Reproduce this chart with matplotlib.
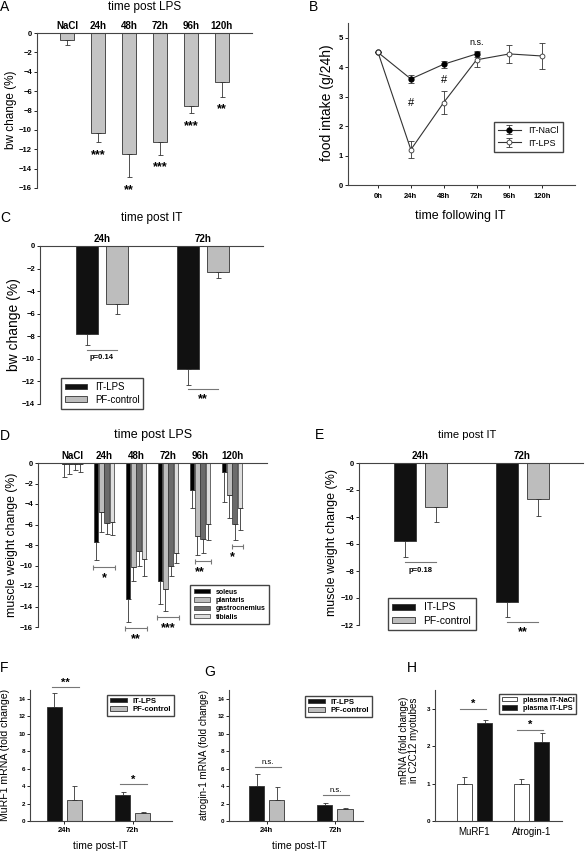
import matplotlib
matplotlib.use('Agg')
import matplotlib.pyplot as plt
import numpy as np

plt.rcParams['font.family'] = ['Liberation Sans', 'DejaVu Sans']
plt.rcParams['axes.linewidth'] = 0.8
plt.rcParams['axes.edgecolor'] = '#444444'

W, H = 586, 852

# ---------------- data ----------------
# A  body weight change, time post LPS
a_groups = ['NaCl', '24h', '48h', '72h', '96h', '120h']
a_bw = [-0.7, -10.3, -12.5, -11.2, -7.5, -5.1]
a_err = [0.5, 1.0, 2.4, 1.4, 0.8, 1.5]
a_stars = ['', '***', '**', '***', '***', '**']

# B  food intake
b_times = ['0h', '24h', '48h', '72h', '96h', '120h']
b_nacl = [4.5, 3.6, 4.1, 4.45]
b_nacl_err = [0.0, 0.15, 0.12, 0.1]
b_lps = [4.5, 1.2, 2.8, 4.25, 4.45, 4.38]
b_lps_err = [0.0, 0.3, 0.4, 0.25, 0.3, 0.45]

# C  bw change, time post IT
c_groups = ['24h', '72h']
c_lps = [-7.8, -10.9]
c_lps_err = [1.0, 1.4]
c_pf = [-5.1, -2.3]
c_pf_err = [0.9, 0.5]
c_sig = ['p=0.14', '**']

# D  muscle weight change, time post LPS
d_groups = ['NaCl', '24h', '48h', '72h', '96h', '120h']
d_muscles = ['soleus', 'plantaris', 'gastrocnemius', 'tibialis']
d_soleus = [-0.05, -7.7, -13.3, -11.55, -2.6, -0.9]
d_soleus_err = [1.3, 1.8, 2.2, 2.25, 1.8, 2.9]
d_plantaris = [-0.05, -4.8, -10.1, -12.25, -7.1, -3.15]
d_plantaris_err = [1.05, 1.95, 1.4, 2.15, 1.85, 2.25]
d_gastro = [-0.05, -5.85, -8.6, -10.0, -7.4, -5.95]
d_gastro_err = [0.6, 1.05, 1.4, 1.0, 1.4, 1.55]
d_tibialis = [-0.05, -5.8, -9.4, -8.8, -5.95, -4.35]
d_tibialis_err = [0.85, 1.2, 1.65, 1.0, 1.55, 2.15]
d_stars = ['', '*', '**', '***', '**', '*']
d_sig_from = [0, 0, 0, 0, 1, 2]   # first muscle covered by bracket

# E  muscle weight change, time post IT
e_groups = ['24h', '72h']
e_lps = [-5.77, -10.27]
e_lps_err = [1.16, 1.12]
e_pf = [-3.27, -2.65]
e_pf_err = [1.11, 1.31]
e_sig = ['p=0.18', '**']

# F  MuRF1 mRNA
f_groups = ['24h', '72h']
f_lps = [13.05, 2.95]
f_lps_err = [1.6, 0.35]
f_pf = [2.37, 0.88]
f_pf_err = [1.63, 0.19]
f_sig = ['**', '*']

# G  atrogin-1 mRNA
g_groups = ['24h', '72h']
g_lps = [4.05, 1.84]
g_lps_err = [1.3, 0.19]
g_pf = [2.37, 1.34]
g_pf_err = [1.53, 0.11]
g_sig = ['n.s.', 'n.s.']

# H  C2C12 myotubes
h_genes = ['MuRF1', 'Atrogin-1']
h_nacl = [1.0, 1.0]
h_nacl_err = [0.17, 0.12]
h_lps = [2.63, 2.12]
h_lps_err = [0.07, 0.23]
h_sig = ['*', '*']

BLACK = '#111111'
GRAY = '#bdbdbd'
EDGE = '#333333'
SIGC = '#777777'
STAR = 9

fig = plt.figure(figsize=(W / 100, H / 100), dpi=100)


def axes_px(x0, y0, x1, y1):
    return fig.add_axes([x0 / W, 1 - y1 / H, (x1 - x0) / W, (y1 - y0) / H])


def ftext(x, y, s, **kw):
    fig.text(x / W, 1 - y / H, s, **kw)


def neg_style(ax, labels, pos, ticksize=5.5, catsize=7):
    # zero line on top, categories written above it
    ax.spines['right'].set_visible(False)
    ax.spines['bottom'].set_visible(False)
    ax.set_xticks(pos)
    ax.set_xticklabels(labels, fontsize=catsize, fontweight='bold')
    ax.tick_params(axis='x', top=True, bottom=False, labeltop=True,
                   labelbottom=False, length=0, pad=1.5)
    ax.tick_params(axis='y', length=2, width=0.6, pad=1.5, labelsize=ticksize)
    for t in ax.get_yticklabels():
        t.set_fontweight('bold')


def pos_style(ax, ticksize=4.5):
    ax.spines['right'].set_visible(False)
    ax.spines['top'].set_visible(False)
    ax.tick_params(axis='y', length=2, width=0.6, pad=1.5, labelsize=ticksize)
    for t in ax.get_yticklabels():
        t.set_fontweight('bold')


def down_err(ax, x, y, e):
    ax.errorbar(x, y, yerr=[e, np.zeros(len(e))], fmt='none', ecolor=EDGE,
                elinewidth=0.6, capsize=1.8, capthick=0.6)


def up_err(ax, x, y, e):
    ax.errorbar(x, y, yerr=[np.zeros(len(e)), e], fmt='none', ecolor=EDGE,
                elinewidth=0.6, capsize=1.8, capthick=0.6)


def sig_line(ax, x0, x1, y, txt, ty, size=7, weight='bold'):
    ax.plot([x0, x1], [y, y], color=SIGC, lw=0.8, clip_on=False)
    ax.text((x0 + x1) / 2, ty, txt, ha='center', va='center',
            fontsize=size, fontweight=weight, clip_on=False)


def box_legend(ax, x, y, size, hl, weight='normal', **kw):
    ax.legend(loc='upper left', bbox_to_anchor=(x / W, 1 - y / H),
              bbox_transform=fig.transFigure, frameon=True, fancybox=False,
              edgecolor='#444444', framealpha=1, handlelength=hl,
              prop={'weight': weight, 'size': size}, **kw)


# ---------------- A ----------------
axA = axes_px(37, 33, 252, 188)
xa = np.arange(len(a_groups))
axA.bar(xa, a_bw, width=0.48, color='#c4c4c4', edgecolor=EDGE, lw=0.6)
down_err(axA, xa, a_bw, a_err)
for i, s in enumerate(a_stars):
    axA.text(i, a_bw[i] - a_err[i] - 1.3, s, ha='center', va='center',
             fontsize=STAR, fontweight='bold')
axA.set_xlim(-0.97, 5.97)
axA.set_ylim(-16, 0)
axA.set_yticks(np.arange(-16, 1, 2))
neg_style(axA, a_groups, xa)
ftext(0, 7, 'A', fontsize=10, va='center')
ftext(145, 7, 'time post LPS', fontsize=8.5, ha='center', va='center')
ftext(11, 110, 'bw change (%)', fontsize=8.5, rotation=90, ha='center', va='center')

# ---------------- B ----------------
axB = axes_px(348, 23, 575, 185)
xb = np.arange(len(b_times))
axB.errorbar(xb[:len(b_nacl)], b_nacl, yerr=b_nacl_err, color=EDGE, lw=0.8,
             marker='o', ms=3.5, mfc='black', mec='black', ecolor=EDGE,
             elinewidth=0.6, capsize=2, capthick=0.6, label='IT-NaCl')
axB.errorbar(xb, b_lps, yerr=b_lps_err, color=EDGE, lw=0.8,
             marker='o', ms=3.5, mfc='white', mec='#333333', mew=0.6,
             ecolor=EDGE, elinewidth=0.6, capsize=2, capthick=0.6, label='IT-LPS')
axB.text(1, 2.8, '#', ha='center', va='center', fontsize=8)
axB.text(2, 3.55, '#', ha='center', va='center', fontsize=8)
axB.text(3, 4.85, 'n.s.', ha='center', va='center', fontsize=6.5)
axB.set_xlim(-0.915, 6.0)
axB.set_ylim(0, 5.5)
axB.set_xticks(xb)
axB.set_xticklabels(b_times, fontsize=5.5, fontweight='bold')
axB.set_yticks(range(6))
axB.spines['right'].set_visible(False)
axB.spines['top'].set_visible(False)
axB.tick_params(axis='both', length=2, width=0.6, pad=1.5, labelsize=5.5)
axB.tick_params(axis='x', pad=4)
for t in axB.get_yticklabels():
    t.set_fontweight('bold')
box_legend(axB, 489, 117, 6.5, 2.5, borderpad=0.5, labelspacing=0.4)
ftext(313, 7, 'B', fontsize=10, va='center', ha='center')
ftext(460, 216, 'time following IT', fontsize=9, ha='center', va='center')
ftext(327, 103, 'food intake (g/24h)', fontsize=10, rotation=90, ha='center', va='center')

# ---------------- C ----------------
axC = axes_px(40, 246, 263, 404)
xc = np.arange(len(c_groups))
off, bw = 0.153, 0.218
axC.bar(xc - off, c_lps, width=bw, color=BLACK, edgecolor=EDGE, lw=0.6, label='IT-LPS')
axC.bar(xc + off, c_pf, width=bw, color=GRAY, edgecolor=EDGE, lw=0.6, label='PF-control')
down_err(axC, xc - off, c_lps, c_lps_err)
down_err(axC, xc + off, c_pf, c_pf_err)
for i in range(len(c_groups)):
    ly = min(c_lps[i] - c_lps_err[i], c_pf[i] - c_pf_err[i]) - 0.4
    sz = 5.5 if i == 0 else STAR
    sig_line(axC, i - off, i + off, ly, c_sig[i], ly - (0.7 if i == 0 else 0.9), size=sz)
axC.set_xlim(-0.614, 1.594)
axC.set_ylim(-14, 0)
axC.set_yticks(np.arange(-14, 1, 2))
neg_style(axC, c_groups, xc)
box_legend(axC, 56, 373, 7, 2.3, handleheight=0.5, borderpad=0.4, labelspacing=0.3)
ftext(0, 218, 'C', fontsize=10, va='center')
ftext(152, 218, 'time post IT', fontsize=8.5, ha='center', va='center')
ftext(14, 325, 'bw change (%)', fontsize=10, rotation=90, ha='center', va='center')

# ---------------- D ----------------
axD = axes_px(38, 463, 267, 627)
xd = np.arange(len(d_groups))
d_vals = [d_soleus, d_plantaris, d_gastro, d_tibialis]
d_errs = [d_soleus_err, d_plantaris_err, d_gastro_err, d_tibialis_err]
d_cols = ['#000000', '#bdbdbd', '#6b6b6b', '#dedede']
step, dw = 0.167, 0.146
for k in range(4):
    xs = xd + (k - 1.5) * step
    axD.bar(xs, d_vals[k], width=dw, color=d_cols[k], edgecolor=EDGE, lw=0.5,
            label=d_muscles[k])
    down_err(axD, xs, d_vals[k], d_errs[k])
for i, s in enumerate(d_stars):
    if not s:
        continue
    k0 = d_sig_from[i]
    low = min(d_vals[k][i] - d_errs[k][i] for k in range(k0, 4))
    x0 = i + (k0 - 1.5) * step - 0.08
    x1 = i + 1.5 * step + 0.08
    yb = low - 0.6
    axD.errorbar((x0 + x1) / 2, yb, xerr=(x1 - x0) / 2, fmt='none', ecolor=SIGC,
                 elinewidth=0.8, capsize=1.8, capthick=0.8, clip_on=False)
    axD.text(i, yb - 1.1, s, ha='center', va='center', fontsize=STAR,
             fontweight='bold', clip_on=False)
axD.set_xlim(-1.06, 6.09)
axD.set_ylim(-16, 0)
axD.set_yticks(np.arange(-16, 1, 2))
neg_style(axD, d_groups, xd)
box_legend(axD, 187, 582, 5.0, 2.4, weight='bold', handleheight=0.55,
           borderpad=0.45, labelspacing=0.2)
ftext(0, 436, 'D', fontsize=10, va='center')
ftext(153, 435, 'time post LPS', fontsize=9, ha='center', va='center')
ftext(12, 545, 'muscle weight change (%)', fontsize=8.8, rotation=90, ha='center', va='center')

# ---------------- E ----------------
axE = axes_px(359, 463, 583, 625)
xe = np.arange(len(e_groups))
off, bw = 0.152, 0.225
axE.bar(xe - off, e_lps, width=bw, color=BLACK, edgecolor=EDGE, lw=0.6, label='IT-LPS')
axE.bar(xe + off, e_pf, width=bw, color=GRAY, edgecolor=EDGE, lw=0.6, label='PF-control')
down_err(axE, xe - off, e_lps, e_lps_err)
down_err(axE, xe + off, e_pf, e_pf_err)
for i in range(len(e_groups)):
    ly = min(e_lps[i] - e_lps_err[i], e_pf[i] - e_pf_err[i]) - 0.4
    sz = 5.5 if i == 0 else STAR
    sig_line(axE, i - off, i + off, ly, e_sig[i], ly - (0.65 if i == 0 else 0.75), size=sz)
axE.set_xlim(-0.603, 1.593)
axE.set_ylim(-12, 0)
axE.set_yticks(np.arange(-12, 1, 2))
neg_style(axE, e_groups, xe)
box_legend(axE, 383, 593, 7.5, 2.2, handleheight=0.5, borderpad=0.4, labelspacing=0.3)
ftext(319, 435, 'E', fontsize=10, va='center', ha='center')
ftext(467, 435, 'time post IT', fontsize=8, ha='center', va='center')
ftext(332, 543, 'muscle weight change (%)', fontsize=9, rotation=90, ha='center', va='center')


# ---------------- F, G ----------------
def mrna_panel(ax, groups, lps, lps_err, pf, pf_err, sig, sig_y, sig_size, xlim, legpos):
    x = np.arange(len(groups))
    off, bw = 0.147, 0.22
    ax.bar(x - off, lps, width=bw, color=BLACK, edgecolor=EDGE, lw=0.6, label='IT-LPS')
    ax.bar(x + off, pf, width=bw, color=GRAY, edgecolor=EDGE, lw=0.6, label='PF-control')
    up_err(ax, x - off, lps, lps_err)
    up_err(ax, x + off, pf, pf_err)
    for i in range(len(groups)):
        sig_line(ax, i - off - 0.03, i + off + 0.06, sig_y[i], sig[i], sig_y[i] + 0.5,
                 size=sig_size, weight='normal' if sig[i] == 'n.s.' else 'bold')
    ax.set_xlim(*xlim)
    ax.set_ylim(0, 15)
    ax.set_yticks(np.arange(0, 15, 2))
    ax.set_xticks(x)
    ax.set_xticklabels(groups, fontsize=5.5, fontweight='bold')
    ax.tick_params(axis='x', length=2, width=0.6, pad=2)
    pos_style(ax)
    box_legend(ax, legpos[0], legpos[1], 5.6, 2.2, weight='bold', handleheight=0.5,
               borderpad=0.35, labelspacing=0.2)


axF = axes_px(30, 690, 172, 821)
mrna_panel(axF, f_groups, f_lps, f_lps_err, f_pf, f_pf_err, f_sig, [15.3, 4.2], 8,
           (-0.507, 1.58), (103, 691))
ftext(0, 668, 'F', fontsize=10, va='center')
ftext(100, 846, 'time post-IT', fontsize=7.5, ha='center', va='center')
ftext(5, 755, 'MuRF1 mRNA (fold change)', fontsize=7.6, rotation=90, ha='center', va='center')

axG = axes_px(229, 690, 363, 821)
mrna_panel(axG, g_groups, g_lps, g_lps_err, g_pf, g_pf_err, g_sig, [6.24, 2.98], 5.5,
           (-0.55, 1.41), (301, 692))
ftext(210, 672, 'G', fontsize=10, va='center', ha='center')
ftext(299, 846, 'time post-IT', fontsize=7.5, ha='center', va='center')
ftext(204, 755, 'atrogin-1 mRNA (fold change)', fontsize=7.1, rotation=90, ha='center', va='center')

# ---------------- H ----------------
axH = axes_px(435, 690, 562, 821)
xh = np.arange(len(h_genes))
off, bw = 0.18, 0.263
axH.bar(xh - off, h_nacl, width=bw, color='white', edgecolor=EDGE, lw=0.6, label='plasma IT-NaCl')
axH.bar(xh + off, h_lps, width=bw, color=BLACK, edgecolor=EDGE, lw=0.6, label='plasma IT-LPS')
up_err(axH, xh - off, h_nacl, h_nacl_err)
up_err(axH, xh + off, h_lps, h_lps_err)
for i, ly in enumerate([3.0, 2.44]):
    sig_line(axH, i - off - 0.08, i + off + 0.02, ly, h_sig[i], ly + 0.12, size=8)
axH.set_xlim(-0.693, 1.535)
axH.set_ylim(0, 3.5)
axH.set_yticks(range(4))
axH.set_xticks(xh)
axH.set_xticklabels(h_genes, fontsize=7)
axH.tick_params(axis='x', length=0, pad=4)
pos_style(axH)
box_legend(axH, 498, 693, 5.2, 2.1, weight='bold', handleheight=0.5,
           borderpad=0.3, labelspacing=0.2, borderaxespad=0.2)
ftext(412, 668, 'H', fontsize=10, va='center', ha='center')
ftext(409, 740, 'mRNA (fold change)\nin C2C12 myotubes', fontsize=7, rotation=90,
      ha='center', va='center', linespacing=1.0)

fig.savefig('out.png', dpi=100)
